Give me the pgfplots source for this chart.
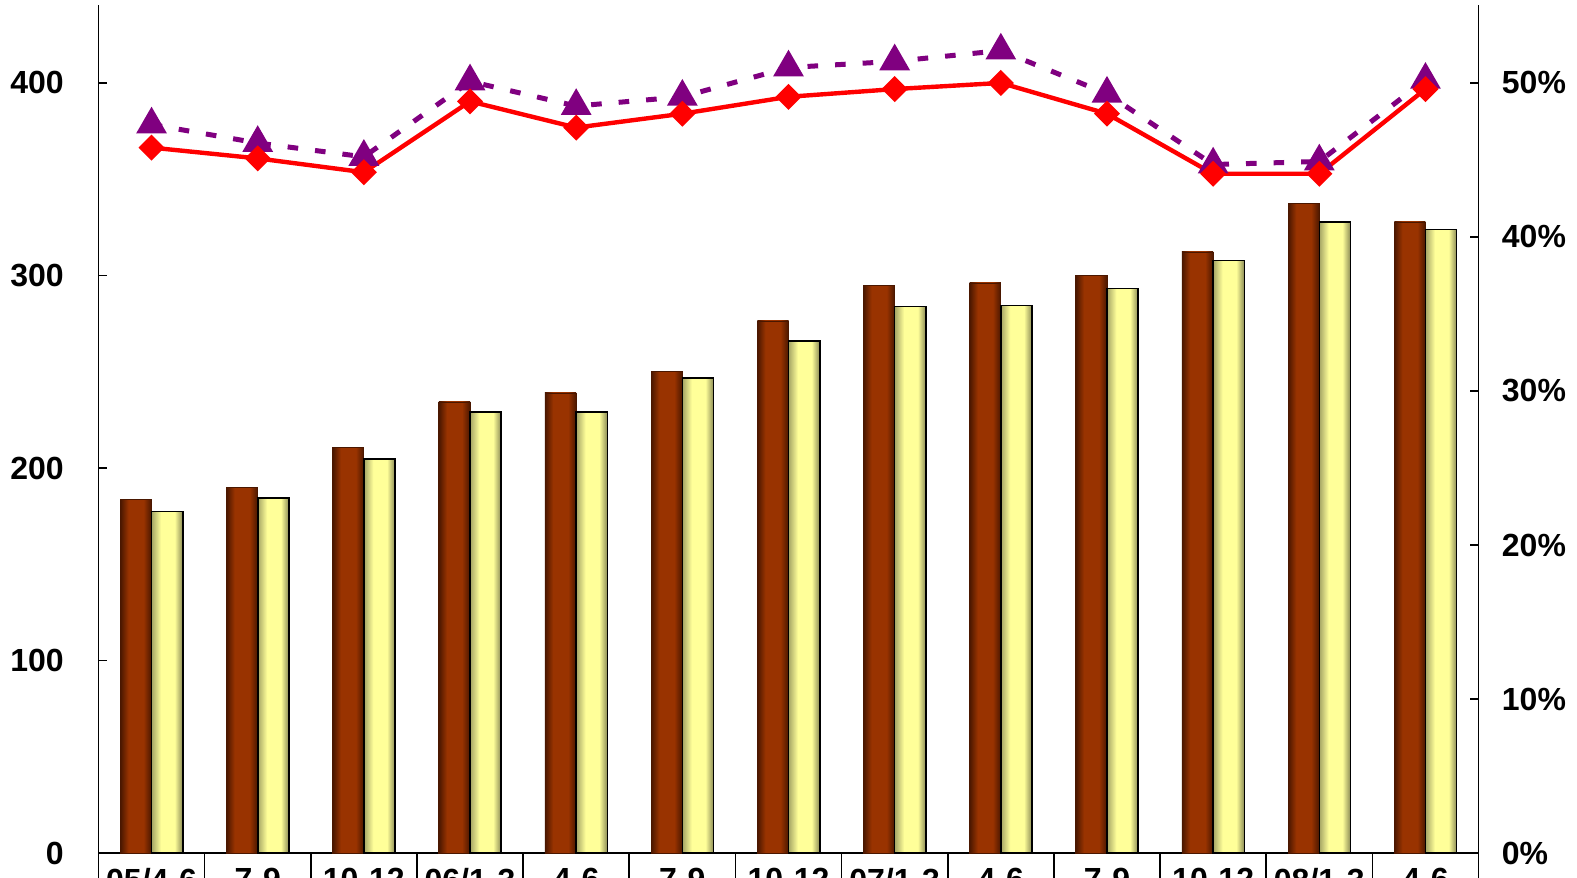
\documentclass[border=0pt]{standalone}
\usepackage{pgfplots}
\usepackage{pgfplotstable}
\pgfplotsset{compat=1.18}
\usepackage{fontspec}
\setmainfont{Liberation Sans}
\definecolor{brownM}{HTML}{993300}
\definecolor{brownD}{HTML}{4A1700}
\definecolor{yelM}{HTML}{FFFF99}
\definecolor{yelD}{HTML}{8A8A55}
\definecolor{yelL}{HTML}{A5A565}
\definecolor{purp}{HTML}{800080}
\pgfdeclarehorizontalshading{brownsh}{100bp}{color(0bp)=(brownD); color(25bp)=(brownD); color(38bp)=(brownM); color(62bp)=(brownM); color(75bp)=(brownD); color(100bp)=(brownD)}
\pgfdeclarehorizontalshading{yelsh}{100bp}{color(0bp)=(yelL); color(25bp)=(yelL); color(40bp)=(yelM); color(62bp)=(yelM); color(75bp)=(yelD); color(100bp)=(yelD)}

\pgfplotstableread{
x a b
1 183.5 177.4
2 189.7 184.5
3 210.5 204.6
4 234.3 229.0
5 239.0 229.0
6 250.0 246.8
7 276.4 266.0
8 294.6 283.8
9 296.1 284.5
10 299.8 293.2
11 312.2 307.7
12 337.2 327.8
13 327.8 323.8
}\bars

\pgfplotstableread{
x r p
1 45.8 47.3
2 45.1 46.1
3 44.2 45.2
4 48.8 50.1
5 47.1 48.5
6 48.0 49.1
7 49.1 51.0
8 49.6 51.4
9 50.0 52.1
10 48.0 49.3
11 44.1 44.7
12 44.1 44.9
13 49.6 50.2
}\lines

\begin{document}
\begin{tikzpicture}
\pgfplotsset{
  common/.style={width=690.25pt, height=424.15pt, scale only axis,
    xmin=0.5, xmax=13.5,
    tick label style={font=\fontsize{16}{19}\selectfont\bfseries, inner sep=0pt},
    /pgf/number format/assume math mode=true,
    axis line style={line width=0.8pt, black},
    major tick length=4.5pt,
    tick style={line width=0.8pt, black},
    tick align=inside}
}
\begin{axis}[common, name=ax,
  axis x line*=bottom, axis y line*=left,
  ymin=0, ymax=440.5, ytick={0,100,200,300,400},
  xtick={1,...,13},
  xticklabels={05/4-6,7-9,10-12,06/1-3,4-6,7-9,10-12,07/1-3,4-6,7-9,10-12,08/1-3,4-6},
  xtick style={draw=none},
  xticklabel style={yshift=-7.2pt},
  extra x ticks={0.5,1.5,2.5,3.5,4.5,5.5,6.5,7.5,8.5,9.5,10.5,11.5,12.5,13.5},
  extra x tick labels={},
  extra x tick style={tick align=outside, major tick length=30pt, xtick style={draw=black, line width=0.8pt}},
  yticklabel style={xshift=-17.2pt}]
\pgfplotsinvokeforeach{1,...,13}{
  \addplot[ybar, bar width=15.6pt, bar shift=-7.8pt, draw=brownD, line width=0.4pt, shading=brownsh, shading angle=0,
    x filter/.expression={abs(x-#1)<0.2 ? x : nan}] table[x=x,y=a]{\bars};
  \addplot[ybar, bar width=15.6pt, bar shift=7.8pt, draw=black, line width=0.8pt, shading=yelsh, shading angle=0,
    x filter/.expression={abs(x-#1)<0.2 ? x : nan}] table[x=x,y=b]{\bars};
}
\end{axis}
\begin{axis}[common,
  axis x line=none, axis y line*=right,
  ymin=0, ymax=55.06, ytick={0,10,20,30,40,50},
  yticklabel={\pgfmathprintnumber{\tick}\%},
  yticklabel style={xshift=11.5pt},
  clip=false]
\addplot[purp, line width=2.5pt, dash pattern=on 5.3pt off 8.5pt, mark=triangle*, mark size=6.4pt, mark options={solid, fill=purp, draw=none}] table[x=x,y=p]{\lines};
\addplot[red, line width=2.2pt, mark=square*, mark size=3.5pt, mark options={rotate=45, solid, fill=red, draw=none}] table[x=x,y=r]{\lines};
\end{axis}
\pgfresetboundingbox
\path[use as bounding box] ([xshift=-49.25pt,yshift=-12.35pt]ax.south west) rectangle ([xshift=49.25pt,yshift=2.5pt]ax.north east);
\end{tikzpicture}
\end{document}
